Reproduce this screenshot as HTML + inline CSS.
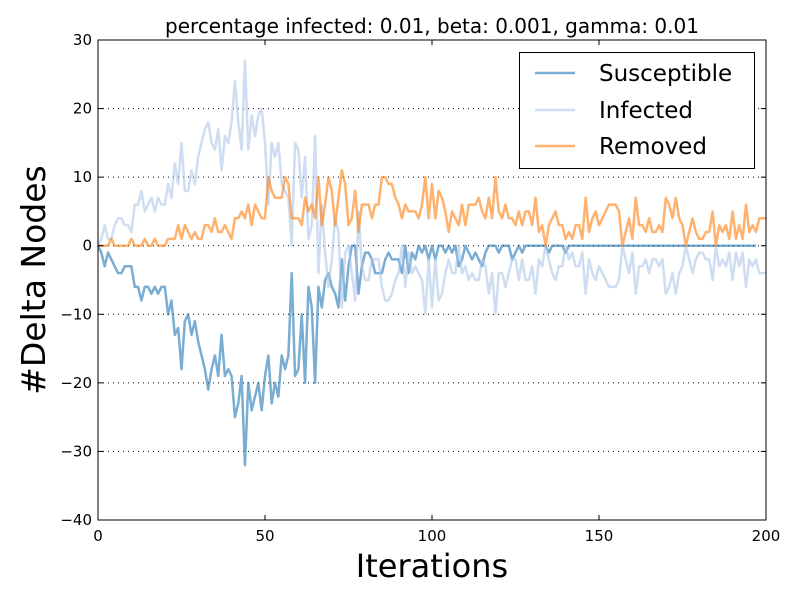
<!DOCTYPE html>
<html><head><meta charset="utf-8"><style>
body{margin:0;background:#fff;}
svg{display:block;font-family:"DejaVu Sans","Liberation Sans",sans-serif;}
</style></head><body>
<svg id="chart" width="800" height="600" viewBox="0 0 800 600">
<rect width="800" height="600" fill="#fff"/>
<text x="432" y="33" text-anchor="middle" font-size="20">percentage infected: 0.01, beta: 0.001, gamma: 0.01</text>
<g id="grid"></g><g id="series"></g><g id="axes"></g>
<text x="432" y="577" text-anchor="middle" font-size="32">Iterations</text>
<text transform="translate(45,280) rotate(-90)" text-anchor="middle" font-size="33">#Delta Nodes</text>
<g>
<rect x="519.5" y="52.5" width="235" height="116" fill="#fff" stroke="#000" stroke-width="1"/>
<line x1="535" y1="73" x2="575" y2="73" stroke="#1f77b4" stroke-opacity="0.6" stroke-width="2.5"/>
<text x="599" y="81" font-size="23">Susceptible</text>
<line x1="535" y1="110" x2="575" y2="110" stroke="#aec7e8" stroke-opacity="0.6" stroke-width="2.5"/>
<text x="599" y="118" font-size="23">Infected</text>
<line x1="535" y1="146" x2="575" y2="146" stroke="#ff7f0e" stroke-opacity="0.6" stroke-width="2.5"/>
<text x="599" y="154" font-size="23">Removed</text>
</g>
</svg>
<script>
const susceptible=[0,-1,-3,-1,-2,-3,-4,-4,-3,-3,-3,-6,-6,-8,-6,-6,-7,-6,-7,-6,-6,-10,-8,-13,-12,-18,-11,-10,-13,-11,-14,-16,-18,-21,-18,-16,-19,-13,-19,-18,-19,-25,-23,-19,-32,-20,-24,-22,-20,-24,-19,-16,-23,-20,-22,-16,-18,-16,-4,-19,-18,-10,-20,-6,-9,-20,-6,-9,-5,-4,-6,-7,-9,-2,-8,-3,0,0,-7,-3,-1,-1,-2,-4,-4,-4,-2,-1,-2,-2,-2,-4,0,-4,-1,-2,0,-1,0,-2,0,-2,0,0,-1,0,-1,0,-3,-2,0,-1,-2,-1,-2,-3,-1,0,0,0,-1,0,0,0,-2,-1,0,-1,0,0,0,0,0,0,0,-1,0,0,0,0,-1,0,0,0,0,0,0,0,0,0,0,0,0,0,0,0,0,0,0,0,0,0,0,0,0,0,0,0,0,0,0,0,0,0,0,0,0,0,0,0,0,0,0,0,0,0,0,0,0,0,0,0,0,0,0,0,0,0];
const removed=[0,0,0,0,1,0,0,0,0,0,1,0,0,0,1,0,0,1,0,0,0,1,1,1,3,1,3,2,1,2,1,1,3,3,2,4,2,2,3,2,1,4,4,5,4,6,3,6,5,4,4,10,8,7,7,7,10,9,4,4,4,3,7,5,6,4,10,3,6,10,8,3,7,11,9,3,4,8,2,6,6,6,4,6,6,10,10,9,9,7,6,4,6,5,5,5,4,6,10,4,9,4,8,7,5,2,5,4,3,6,3,6,6,6,7,5,4,7,4,10,5,4,6,4,4,3,5,3,5,5,3,7,2,3,0,3,4,5,3,3,1,2,1,3,3,1,7,2,4,5,3,4,5,6,6,6,5,0,2,4,1,7,3,3,2,4,2,2,3,2,7,6,4,7,4,3,0,2,4,2,1,1,2,2,5,0,3,2,3,1,5,1,3,1,6,2,3,2,4,4,4];
const infected=[0,1,3,1,1,3,4,4,3,3,2,6,6,8,5,6,7,5,7,6,6,9,7,12,9,15,8,8,11,9,13,15,17,18,15,14,17,11,16,15,18,24,18,14,27,14,19,16,19,20,15,6,15,13,15,9,8,7,0,15,14,7,13,1,3,16,-4,6,-1,-6,-2,4,2,-9,-1,0,-4,-8,5,-3,-5,-5,-2,-2,-2,-6,-8,-8,-7,-5,-4,0,-6,-1,-4,-3,-4,-5,-10,-2,-9,-2,-8,-7,-4,-2,-4,-4,0,-4,-3,-5,-4,-5,-5,-2,-3,-7,-4,-10,-4,-4,-6,-4,-2,-2,-5,-2,-5,-5,-3,-7,-2,-3,0,-2,-4,-5,-3,-3,0,-2,-1,-3,-3,-1,-7,-2,-4,-5,-3,-4,-5,-6,-6,-6,-5,0,-2,-4,-1,-7,-3,-3,-2,-4,-2,-2,-3,-2,-7,-6,-4,-7,-4,-3,0,-2,-4,-2,-1,-1,-2,-2,-5,0,-3,-2,-3,-1,-5,-1,-3,-1,-6,-2,-3,-2,-4,-4,-4];
const xTicks=[0,50,100,150,200];
const yTicks=[-40,-30,-20,-10,0,10,20,30];
const yTickLabels=["\u221240","\u221230","\u221220","\u221210","0","10","20","30"];
const L=98,R=766,T=40,B=520;
function xs(v){return L+(v-0)/(200-0)*(R-L);}
function ys(v){return B-(v+40)/70*(B-T);}
const NS="http://www.w3.org/2000/svg";
function mk(tag,attrs,parent){const e=document.createElementNS(NS,tag);for(const k in attrs)e.setAttribute(k,attrs[k]);parent.appendChild(e);return e;}
const grid=document.getElementById('grid'),axes=document.getElementById('axes'),ser=document.getElementById('series');
yTicks.forEach((t,i)=>{
  const y=ys(t);
  if(t>-40&&t<30){const g=mk('line',{x1:L,x2:R,y1:y,y2:y,stroke:'#000','stroke-width':1,'stroke-dasharray':'1,4'},grid);
  
  }
  mk('line',{x1:L,x2:L+5,y1:y,y2:y,stroke:'#000'},axes);
  mk('line',{x1:R,x2:R-5,y1:y,y2:y,stroke:'#000'},axes);
  const tx=mk('text',{x:L-6,y:y+5,'text-anchor':'end','font-size':15},axes);
  tx.textContent=yTickLabels[i];
  
  
});
xTicks.forEach(t=>{
  const x=xs(t);
  mk('line',{x1:x,x2:x,y1:B,y2:B-5,stroke:'#000'},axes);
  mk('line',{x1:x,x2:x,y1:T,y2:T+5,stroke:'#000'},axes);
  const tx=mk('text',{x:x,y:B+21,'text-anchor':'middle','font-size':15},axes);
  tx.textContent=t;
  
  
});
const frame=mk('rect',{x:L,y:T,width:R-L,height:B-T,fill:'none',stroke:'#000','stroke-width':1},axes);


function line(data,color,name){
  const d=data.map((v,i)=>(i?'L':'M')+xs(i).toFixed(2)+','+ys(v).toFixed(2)).join('');
  const p=mk('path',{d:d,fill:'none',stroke:color,'stroke-opacity':0.6,'stroke-width':2.5,'stroke-linejoin':'round'},ser);
  
  
}
line(susceptible,'#1f77b4','susceptible-line');
line(infected,'#aec7e8','infected-line');
line(removed,'#ff7f0e','removed-line');
</script>
</body></html>
